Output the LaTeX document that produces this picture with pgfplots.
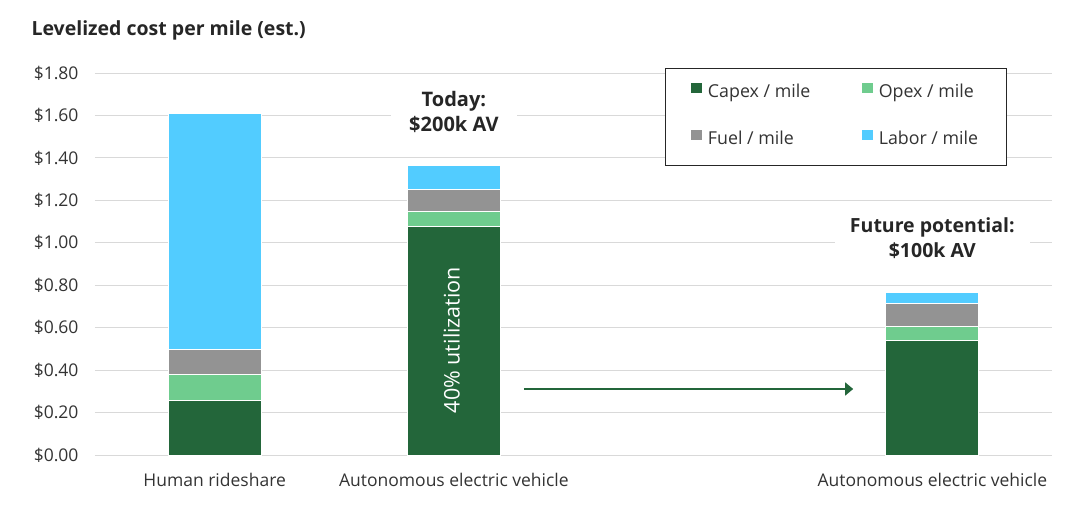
\documentclass[border=0pt]{standalone}
\usepackage{fontspec}
\setmainfont{Open Sans}
\usepackage{pgfplots}
\pgfplotsset{compat=1.18}
\usetikzlibrary{arrows.meta}
\definecolor{capex}{HTML}{23663A}
\definecolor{opex}{HTML}{6FCC8E}
\definecolor{fuel}{HTML}{939393}
\definecolor{labor}{HTML}{52CCFF}
\definecolor{gridc}{HTML}{D9D9D9}
\definecolor{txt}{HTML}{333333}
\definecolor{ttl}{HTML}{262626}
\begin{document}
\begin{tikzpicture}
\path[use as bounding box] (0,0) rectangle (1088pt,523pt);
\begin{axis}[
  at={(95pt,68pt)}, anchor=south west,
  scale only axis, width=957pt, height=382pt,
  xmin=-0.5, xmax=3.5, ymin=0, ymax=1.8,
  ybar stacked, bar width=93pt,
  axis line style={draw=none},
  major tick length=0pt,
  ymajorgrids, grid style={gridc, line width=1pt},
  ytick={0,0.2,0.4,0.6,0.8,1.0,1.2,1.4,1.6,1.8},
  yticklabel={\$\pgfmathprintnumber[fixed,fixed zerofill,precision=2]{\tick}},
  /pgf/number format/assume math mode=true,
  xtick={0,1,3},
  xticklabels={Human rideshare, Autonomous electric vehicle, Autonomous electric vehicle},
  ticklabel style={font=\fontsize{17.5}{20}\selectfont, text=txt},
  yticklabel style={xshift=-13pt},
  xticklabel style={yshift=-15pt},
  legend columns=2,
  legend cell align=left,
  legend style={at={(axis description cs:0.5956,1.0131)}, anchor=north west,
    draw=black!85, line width=1pt, inner xsep=26pt, inner ysep=15pt,
    font=\fontsize{17.8}{20}\selectfont, text=txt, row sep=27pt,
    nodes={inner sep=2pt, text height=12pt, text depth=4pt},
    /tikz/every odd column/.append style={column sep=4pt},
    /tikz/every even column/.append style={column sep=50pt}},
  legend image code/.code={\fill[#1,draw=none] (0pt,0pt) rectangle (10.5pt,10pt);},
  every axis plot/.append style={draw=white, line width=1pt},
]
\addplot[fill=capex] coordinates {(0,0.258) (1,1.075) (3,0.538)};
\addplot[fill=opex]  coordinates {(0,0.120) (1,0.072) (3,0.069)};
\addplot[fill=fuel]  coordinates {(0,0.120) (1,0.104) (3,0.106)};
\addplot[fill=labor] coordinates {(0,1.110) (1,0.112) (3,0.053)};
\legend{Capex / mile, Opex / mile, Fuel / mile, Labor / mile}
\node[fill=white, inner xsep=18pt, inner ysep=3pt, align=center,
  font=\bfseries\fontsize{20}{25}\selectfont, text=ttl] at (axis cs:1,1.616) {Today:\\\$200k AV};
\node[fill=white, inner xsep=15pt, inner ysep=3pt, align=center,
  font=\bfseries\fontsize{19.5}{25}\selectfont, text=ttl] at (axis cs:3,1.02) {Future potential:\\\$100k AV};
\coordinate (util) at (axis cs:0.99,0.542);
\draw[capex, line width=1.5pt, -{Triangle[length=8pt,width=13pt]}] (axis cs:1.293,0.311) -- (axis cs:2.669,0.311);
\end{axis}
\node[rotate=90, text=white, font=\fontsize{21.5}{24}\selectfont] at (util) {40\% utilization};
\node[anchor=base west, font=\bfseries\fontsize{19.5}{22}\selectfont, text=ttl] at (28pt,487pt) {Levelized cost per mile (est.)};
\end{tikzpicture}
\end{document}
